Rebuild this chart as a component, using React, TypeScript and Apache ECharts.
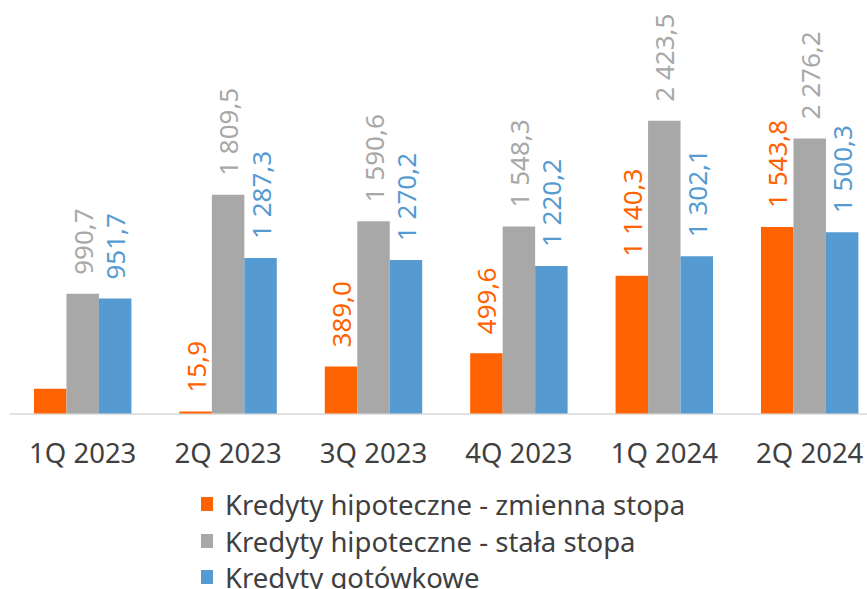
import React, { useEffect, useRef } from "react";
import * as echarts from "echarts";

const categories = ["1Q 2023", "2Q 2023", "3Q 2023", "4Q 2023", "1Q 2024", "2Q 2024"];
const seriesNames = [
  "Kredyty hipoteczne - zmienna stopa",
  "Kredyty hipoteczne - stała stopa",
  "Kredyty gotówkowe",
];
const zmienna = [205.0, 15.9, 389.0, 499.6, 1140.3, 1543.8];
const stala = [990.7, 1809.5, 1590.6, 1548.3, 2423.5, 2276.2];
const gotowkowe = [951.7, 1287.3, 1270.2, 1220.2, 1302.1, 1500.3];
// the first orange label is drawn in white inside the chart (not visible)
const hiddenLabels = [[0], [], []];
const colors = ["#FF6200", "#A8A8A8", "#559BD1"];

const FONT = "'Noto Sans', 'Open Sans', sans-serif";

function fmt(v: number): string {
  const s = v.toFixed(1);
  const [ip, dp] = s.split(".");
  const withSpaces = ip.replace(/\B(?=(\d{3})+(?!\d))/g, " ");
  return withSpaces + "," + dp;
}

export default function App() {
  const ref = useRef<HTMLDivElement>(null);
  useEffect(() => {
    document.body.style.margin = "0";
    if (!ref.current) return;
    const chart = echarts.init(ref.current, undefined, { renderer: "svg" });
    const all = [zmienna, stala, gotowkowe];
    const series = all.map((vals, si) => ({
      name: seriesNames[si],
      type: "bar",
      barGap: "0%",
      barCategoryGap: "33%",
      itemStyle: { color: colors[si] },
      label: {
        show: true,
        position: "top",
        rotate: 90,
        align: "left",
        verticalAlign: "middle",
        distance: 19,
        color: colors[si],
        fontSize: 26,
        fontFamily: FONT,
        formatter: (p: any) => fmt(p.value),
      },
      data: vals.map((v, i) =>
        hiddenLabels[si].includes(i) ? { value: v, label: { show: false } } : v
      ),
    }));
    const legendTops = [490, 527, 563];
    const legends = seriesNames.map((name, i) => ({
      orient: "vertical",
      left: 201,
      top: legendTops[i],
      padding: 0,
      itemWidth: 12,
      itemHeight: 14,
      icon: "rect",
      data: [name],
      textStyle: {
        fontSize: 27.5,
        fontFamily: FONT,
        color: "#404040",
        lineHeight: 26,
        padding: [0, 0, 0, 7],
      },
    }));
    chart.setOption({
      animation: false,
      grid: { left: 10, width: 872.4, top: 51, bottom: 175.5, containLabel: false },
      legend: legends,
      xAxis: {
        type: "category",
        data: categories,
        axisLine: { lineStyle: { color: "#D9D9D9", width: 1.5 } },
        axisTick: { show: false },
        axisLabel: {
          fontSize: 27.5,
          fontFamily: FONT,
          color: "#404040",
          margin: 25,
          interval: 0,
        },
      },
      yAxis: {
        type: "value",
        min: 0,
        max: 3000,
        show: false,
        splitLine: { show: false },
      },
      series,
    });
    return () => chart.dispose();
  }, []);
  return (
    <div style={{ width: 867, height: 589, overflow: "hidden", position: "relative" }}>
      <div ref={ref} style={{ width: 895, height: 589 }} />
    </div>
  );
}
